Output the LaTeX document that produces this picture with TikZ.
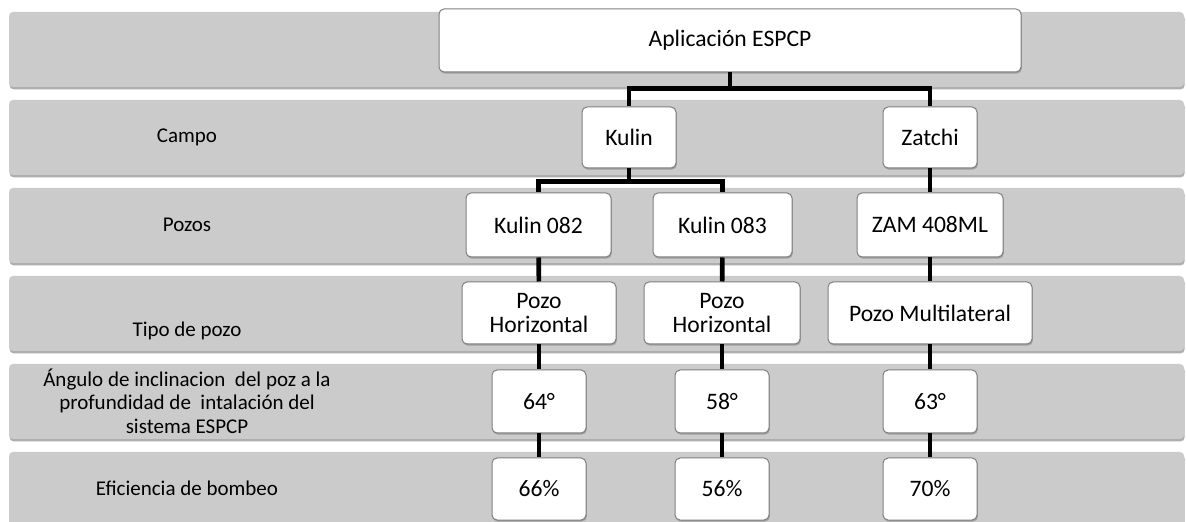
\documentclass[tikz,border=0pt]{standalone}
\usepackage{fontspec}
\setmainfont{Carlito}
\usepackage{tikz}
\usetikzlibrary{shadows}
\definecolor{bandgray}{HTML}{CBCBCB}
\definecolor{boxline}{HTML}{7F7F7F}

\begin{document}
\begin{tikzpicture}[x=0.5pt, y=-0.5pt,
    font=\fontsize{11.8}{12.4}\selectfont,
    band/.style={fill=bandgray, rounded corners=2pt,
      drop shadow={shadow xshift=0.3pt, shadow yshift=-1.2pt, opacity=0.45, fill=black!70}},
    rowtitle/.style={font=\fontsize{10.5}{11.8}\selectfont, align=center},
    cell/.style={draw=boxline, line width=0.5pt, fill=white, rounded corners=2.5pt,
      align=center, inner sep=2pt,
      drop shadow={shadow xshift=0.4pt, shadow yshift=-0.8pt, opacity=0.35, fill=black!70}},
    link/.style={line width=2.3pt, black}]

      \useasboundingbox (0,0) rectangle (1186,522);
      \clip (0,0) rectangle (1186,522);

      % bands
      \foreach \top in {12,100,188,276,364,452}{
        \path[band] (9,\top) rectangle (1184,\top+75);
      }

      % row titles
      \node[rowtitle] (tCampo) at (187,137) {Campo};
      \node[rowtitle] (tPozos) at (187,225) {Pozos};
      \node[rowtitle] (tTipo)  at (187,331) {Tipo de pozo};
      \node[rowtitle] (tAng) at (187,401)
        {Ángulo de inclinacion~ del poz a la\\profundidad de~ intalación del\\sistema ESPCP};
      \node[rowtitle] (tEfic)  at (187,488) {Eficiencia de bombeo};

      % tree
      \node[cell, minimum width=291pt, minimum height=31.5pt] (app) at (730,40.5) {Aplicación ESPCP};

      \node[cell, minimum width=47pt, minimum height=30.5pt] (kulin)  at (629,137.5) {Kulin};
      \node[cell, minimum width=47pt, minimum height=30.5pt] (zatchi) at (930,137.5) {Zatchi};

      \node[cell, minimum width=72.5pt, minimum height=32pt] (k082) at (538.5,225) {Kulin 082};
      \node[cell, minimum width=69.5pt, minimum height=32pt] (k083) at (722.5,225) {Kulin 083};
      \node[cell, minimum width=73pt, minimum height=32pt] (zam)  at (930,225) {ZAM 408ML};

      \node[cell, minimum width=77pt, minimum height=31pt] (ph1) at (539,313) {Pozo\\Horizontal};
      \node[cell, minimum width=78pt, minimum height=31pt] (ph2) at (722,313) {Pozo\\Horizontal};
      \node[cell, minimum width=102pt, minimum height=31pt] (pml) at (930,313) {Pozo Multilateral};

      \node[cell, minimum width=47pt, minimum height=31.5pt] (a64) at (539,401.5) {64°};
      \node[cell, minimum width=47pt, minimum height=31.5pt] (a58) at (722,401.5) {58°};
      \node[cell, minimum width=47pt, minimum height=31.5pt] (a63) at (930,401.5) {63°};

      \node[cell, minimum width=47pt, minimum height=31pt] (e66) at (539,489) {66\%};
      \node[cell, minimum width=47pt, minimum height=31pt] (e56) at (722,489) {56\%};
      \node[cell, minimum width=47pt, minimum height=31pt] (e70) at (930,489) {70\%};

      % connectors
      \draw[link] (app.south) -- ++(0,16) -| (kulin.north);
      \draw[link] (app.south) -- ++(0,16) -| (zatchi.north);
      \draw[link] (kulin.south) -- ++(0,13) -| (k082.north);
      \draw[link] (kulin.south) -- ++(0,13) -| (k083.north);
      \draw[link] (zatchi) -- (zam);

      \draw[link] (k082) -- (ph1);
      \draw[link] (k083) -- (ph2);
      \draw[link] (zam)  -- (pml);
      \draw[link] (ph1) -- (a64);
      \draw[link] (ph2) -- (a58);
      \draw[link] (pml) -- (a63);
      \draw[link] (a64) -- (e66);
      \draw[link] (a58) -- (e56);
      \draw[link] (a63) -- (e70);

    \end{tikzpicture}
\end{document}
